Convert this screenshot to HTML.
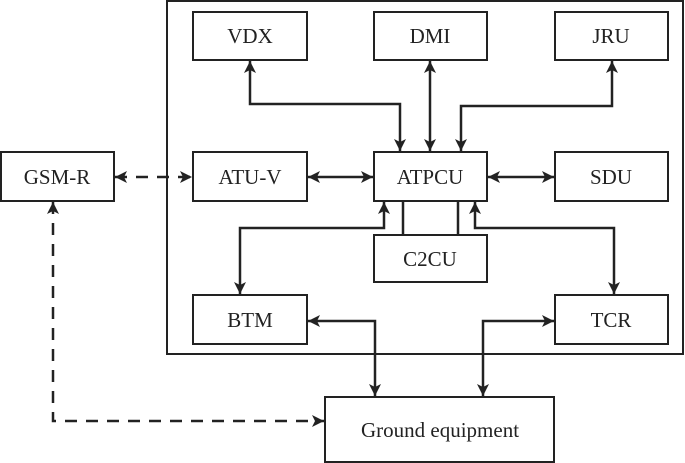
<!DOCTYPE html>
<html><head><meta charset="utf-8"><style>
html,body{margin:0;padding:0;background:#fff;}
svg{display:block;}
text{font-family:"Liberation Serif",serif;font-size:21px;fill:#222;text-anchor:middle;}
</style></head><body>
<svg width="685" height="463" viewBox="0 0 685 463" xmlns="http://www.w3.org/2000/svg">
<defs>
<marker id="a" viewBox="0 0 10 10" refX="10" refY="5" markerWidth="5" markerHeight="5" orient="auto-start-reverse" markerUnits="userSpaceOnUse">
</marker>
<marker id="m" viewBox="0 0 12 12" refX="12" refY="6" markerWidth="12" markerHeight="12" orient="auto-start-reverse" markerUnits="userSpaceOnUse">
<path d="M0,0 L12,6 L0,12 L3,6 Z" fill="#222"/>
</marker>
</defs>
<g fill="none" stroke="#222" stroke-width="2">
<rect x="167" y="1" width="516" height="353"/>
<rect x="193" y="12" width="114" height="48"/>
<rect x="374" y="12" width="113" height="48"/>
<rect x="555" y="12" width="113" height="48"/>
<rect x="1" y="152" width="113" height="49"/>
<rect x="193" y="152" width="114" height="49"/>
<rect x="374" y="152" width="113" height="49"/>
<rect x="555" y="152" width="113" height="49"/>
<rect x="374" y="235" width="113" height="47"/>
<rect x="193" y="295" width="114" height="49"/>
<rect x="555" y="295" width="113" height="49"/>
<rect x="325" y="397" width="229" height="65"/>
</g>
<g fill="none" stroke="#222" stroke-width="2.5">
<path d="M250,61 V104 H400 V151" marker-start="url(#m)" marker-end="url(#m)"/>
<path d="M430,61 V151" marker-start="url(#m)" marker-end="url(#m)"/>
<path d="M612,61 V106 H461 V151" marker-start="url(#m)" marker-end="url(#m)"/>
<path d="M308,177 H373" marker-start="url(#m)" marker-end="url(#m)"/>
<path d="M488,177 H554" marker-start="url(#m)" marker-end="url(#m)"/>
<path d="M403,201 V235 M458,201 V235"/>
<path d="M384,202 V228 H240 V294" marker-start="url(#m)" marker-end="url(#m)"/>
<path d="M475,202 V228 H614 V294" marker-start="url(#m)" marker-end="url(#m)"/>
<path d="M308,321 H375 V396" marker-start="url(#m)" marker-end="url(#m)"/>
<path d="M554,321 H483 V396" marker-start="url(#m)" marker-end="url(#m)"/>
<path d="M115,177 H192" stroke-dasharray="12,9" marker-start="url(#m)" marker-end="url(#m)"/>
<path d="M53,202 V421 H324" stroke-dasharray="12,9" marker-start="url(#m)" marker-end="url(#m)"/>
</g>
<text x="250" y="43">VDX</text>
<text x="430" y="43">DMI</text>
<text x="611" y="43">JRU</text>
<text x="57" y="184">GSM-R</text>
<text x="250" y="184">ATU-V</text>
<text x="430" y="184">ATPCU</text>
<text x="611" y="184">SDU</text>
<text x="430" y="266">C2CU</text>
<text x="250" y="327">BTM</text>
<text x="611" y="327">TCR</text>
<text x="440" y="437">Ground equipment</text>
</svg>
</body></html>
